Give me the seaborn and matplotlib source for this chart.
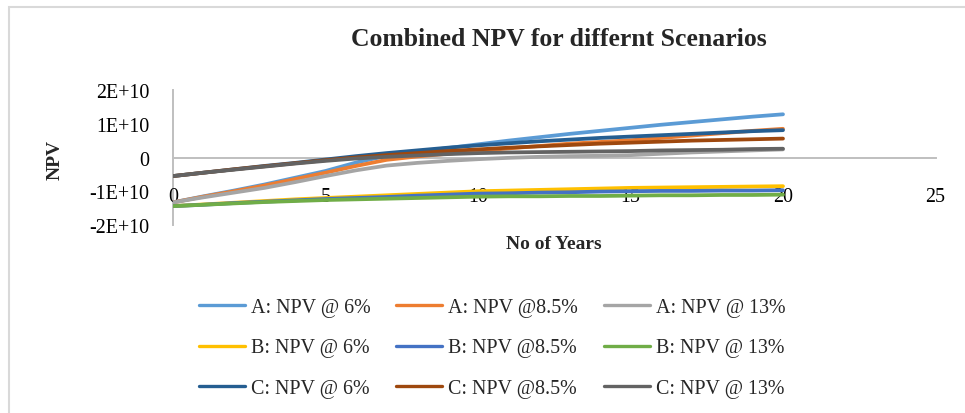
import numpy as np
import pandas as pd
import matplotlib
matplotlib.use("Agg")
import matplotlib.pyplot as plt
import seaborn as sns
from matplotlib.ticker import FixedLocator, FixedFormatter
from matplotlib.lines import Line2D
from matplotlib.patches import Rectangle

# ---------------- data ----------------
years = list(range(0, 21))
series_names = ["A: NPV @ 6%", "A: NPV @8.5%", "A: NPV @ 13%",
                "B: NPV @ 6%", "B: NPV @8.5%", "B: NPV @ 13%",
                "C: NPV @ 6%", "C: NPV @8.5%", "C: NPV @ 13%"]
scale = 1e10
a_6 = [-1.33, -1.15, -0.98, -0.80, -0.60, -0.40, -0.15, 0.05, 0.17, 0.28, 0.39,
       0.50, 0.60, 0.70, 0.79, 0.88, 0.97, 1.05, 1.13, 1.21, 1.28]
a_85 = [-1.33, -1.16, -1.00, -0.83, -0.64, -0.45, -0.25, -0.07, 0.03, 0.11, 0.19,
        0.27, 0.34, 0.41, 0.46, 0.51, 0.58, 0.65, 0.72, 0.79, 0.85]
a_13 = [-1.33, -1.18, -1.04, -0.90, -0.73, -0.55, -0.38, -0.24, -0.16, -0.10, -0.05,
        -0.01, 0.02, 0.04, 0.05, 0.07, 0.11, 0.15, 0.18, 0.21, 0.24]
b_6 = [-1.44, -1.39, -1.34, -1.29, -1.24, -1.20, -1.16, -1.12, -1.08, -1.04, -1.00,
       -0.98, -0.96, -0.94, -0.92, -0.90, -0.89, -0.88, -0.87, -0.86, -0.85]
b_85 = [-1.44, -1.40, -1.35, -1.31, -1.27, -1.23, -1.20, -1.17, -1.13, -1.10, -1.07,
        -1.06, -1.04, -1.03, -1.01, -1.00, -0.99, -0.99, -0.98, -0.98, -0.97]
b_13 = [-1.44, -1.40, -1.36, -1.32, -1.29, -1.26, -1.24, -1.22, -1.20, -1.18, -1.16,
        -1.15, -1.15, -1.14, -1.14, -1.13, -1.12, -1.12, -1.11, -1.11, -1.10]
c_6 = [-0.55, -0.45, -0.35, -0.25, -0.16, -0.06, 0.04, 0.13, 0.21, 0.29, 0.36,
       0.42, 0.48, 0.53, 0.58, 0.62, 0.66, 0.70, 0.74, 0.78, 0.81]
c_85 = [-0.55, -0.45, -0.35, -0.26, -0.17, -0.08, 0.00, 0.07, 0.13, 0.19, 0.24,
        0.29, 0.33, 0.37, 0.41, 0.44, 0.47, 0.50, 0.52, 0.54, 0.56]
c_13 = [-0.55, -0.45, -0.36, -0.27, -0.18, -0.10, -0.03, 0.02, 0.06, 0.10, 0.13,
        0.15, 0.16, 0.17, 0.18, 0.19, 0.21, 0.22, 0.23, 0.25, 0.26]
all_series = [a_6, a_85, a_13, b_6, b_85, b_13, c_6, c_85, c_13]

x_ticks = [0, 5, 10, 15, 20, 25]
x_tick_labels = ["0", "5", "10", "15", "20", "25"]
y_ticks = [-2e10, -1e10, 0, 1e10, 2e10]
y_tick_labels = ["-2E+10", "-1E+10", "0", "1E+10", "2E+10"]

colors = ["#5B9BD5", "#ED7D31", "#A5A5A5", "#FFC000", "#4472C4",
          "#70AD47", "#255E91", "#9E480E", "#636363"]

rows = []
for name, vals in zip(series_names, all_series):
    for yr, v in zip(years, vals):
        rows.append({"Year": yr, "NPV": v * scale, "Series": name})
df = pd.DataFrame(rows)

# ---------------- style ----------------
sns.set_style("white")
plt.rcParams["font.family"] = ["Liberation Serif", "DejaVu Serif"]

W, H = 965, 414
fig = plt.figure(figsize=(W / 100, H / 100), dpi=100)

ax_left, ax_right = 173, 935.5
ax_top, ax_bottom = 91, 226
ax = fig.add_axes([ax_left / W, 1 - ax_bottom / H,
                   (ax_right - ax_left) / W, (ax_bottom - ax_top) / H])
ax.patch.set_alpha(0)

sns.lineplot(data=df, x="Year", y="NPV", hue="Series", hue_order=series_names,
             palette=dict(zip(series_names, colors)), linewidth=2.7,
             ax=ax, legend=False, sort=False)
for ln in ax.get_lines():
    ln.set_solid_capstyle("round")
    ln.set_solid_joinstyle("round")

ax.set_xlim(0, 25)
ax.set_ylim(-2e10, 2e10)
ax.xaxis.set_major_locator(FixedLocator(x_ticks))
ax.xaxis.set_major_formatter(FixedFormatter(x_tick_labels))
ax.yaxis.set_major_locator(FixedLocator(y_ticks))
ax.yaxis.set_major_formatter(FixedFormatter(y_tick_labels))
ax.set_xlabel("")
ax.set_ylabel("")

spine_col = "#BFBFBF"
ax.spines["top"].set_visible(False)
ax.spines["right"].set_visible(False)
ax.spines["bottom"].set_position(("data", 0))
for s in ("bottom", "left"):
    ax.spines[s].set_color(spine_col)
    ax.spines[s].set_linewidth(1.4)
    ax.spines[s].set_zorder(0.5)
ax.tick_params(axis="x", direction="out", length=4, width=1.2, color=spine_col,
               labelsize=14.4, pad=17, labelcolor="black")
ax.tick_params(axis="y", direction="out", length=4, width=1.2, color=spine_col,
               labelsize=14.4, pad=13, labelcolor="black")
ax.grid(False)

# titles / labels
fig.text(559 / W, 1 - 40 / H, "Combined NPV for differnt Scenarios",
         ha="center", va="center", fontsize=18.5, fontweight="bold")
fig.text(55 / W, 1 - 160 / H, "NPV", rotation=90, ha="center", va="center",
         fontsize=14, fontweight="bold")
fig.text(554 / W, 1 - 245 / H, "No of Years", ha="center", va="center",
         fontsize=14, fontweight="bold")

# legend (row-major order: matplotlib fills columns first)
order = [0, 3, 6, 1, 4, 7, 2, 5, 8]
handles = [Line2D([], [], color=colors[i], lw=2.4) for i in order]
labels = [series_names[i] for i in order]
leg = fig.legend(handles, labels, ncol=3, loc="center",
                 bbox_to_anchor=(492 / W, 1 - 349 / H), frameon=False,
                 fontsize=14.4, handlelength=2.3, handletextpad=0.3,
                 columnspacing=1.3, labelspacing=1.08)

# chart border (top and left edges visible)
fig.patches.append(Rectangle((9 / W, -0.05), 1.1, 1 - 8 / H + 0.05,
                             transform=fig.transFigure, fill=False,
                             edgecolor="#D9D9D9", linewidth=1.5))

fig.savefig("out.png", dpi=100)
